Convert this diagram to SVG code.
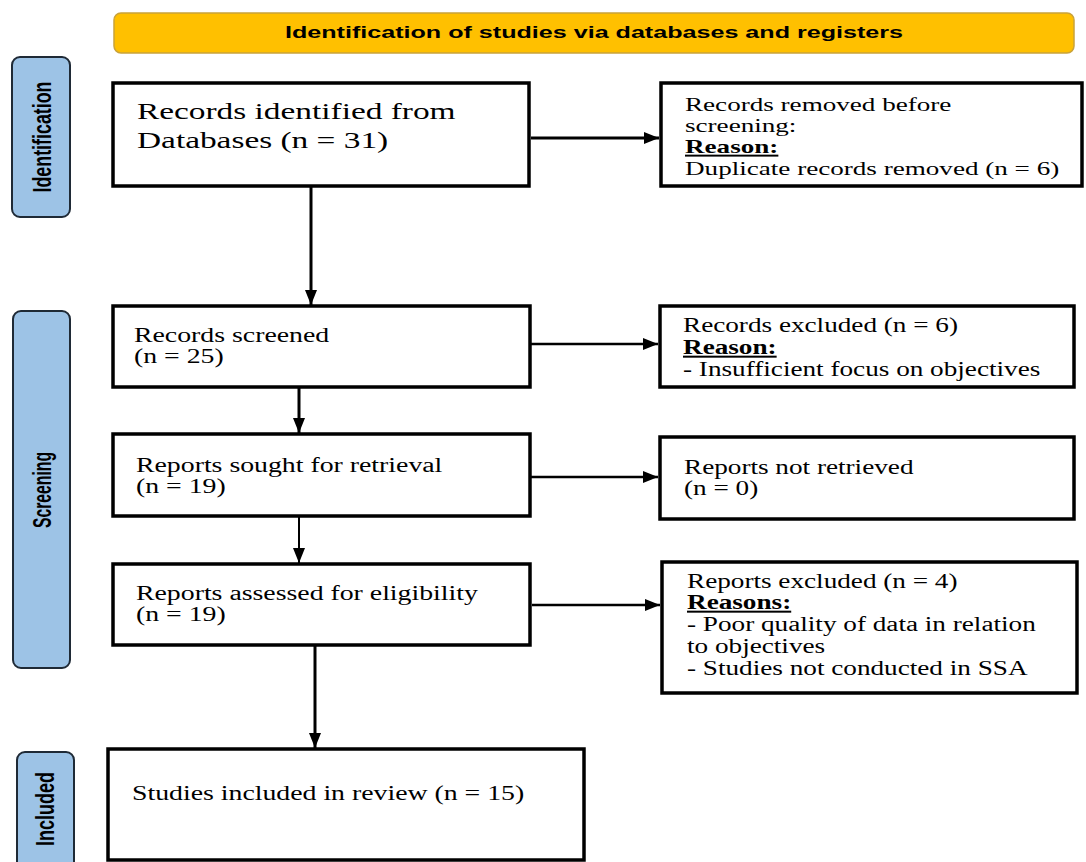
<svg xmlns="http://www.w3.org/2000/svg" width="1086" height="862" viewBox="0 0 1086 862">
<style>
.box{fill:#fff;stroke:#000;stroke-width:3.5}
.side{fill:#9DC3E6;stroke:#1F2A36;stroke-width:2}
.sideT{font-family:"Liberation Sans",Arial,sans-serif;font-weight:bold;font-size:18px;fill:#000}
.t{font-family:"Liberation Serif","Times New Roman",serif;fill:#000}
.b{font-weight:bold;text-decoration:underline}
.c{stroke:#000;fill:none}
</style>
<defs>
<marker id="ah" markerUnits="userSpaceOnUse" markerWidth="16" markerHeight="12" refX="15" refY="6" orient="auto">
<path d="M0,0 L15,6 L0,12 Z" fill="#000"/>
</marker>
</defs>
<rect width="1086" height="862" fill="#fff"/>

<g id="banner">
<rect x="114" y="13" width="960" height="40" rx="7" fill="#FFC000" stroke="#C9A23A" stroke-width="1.5"/>
<text x="594" y="38" text-anchor="middle" font-family="Liberation Sans,Arial,sans-serif" font-weight="bold" font-size="16" textLength="618" lengthAdjust="spacingAndGlyphs">Identification of studies via databases and registers</text>
</g>

<g id="lbl-identification">
<rect class="side" x="12" y="57" width="58" height="160" rx="8"/>
<text class="sideT" transform="translate(42,137) scale(1.39,1) rotate(-90)" text-anchor="middle" dominant-baseline="central" textLength="111" lengthAdjust="spacingAndGlyphs">Identification</text>
</g>
<g id="lbl-screening">
<rect class="side" x="13" y="311" width="57" height="357" rx="8"/>
<text class="sideT" transform="translate(42,490) scale(1.39,1) rotate(-90)" text-anchor="middle" dominant-baseline="central" textLength="76" lengthAdjust="spacingAndGlyphs">Screening</text>
</g>
<g id="lbl-included">
<rect class="side" x="17" y="752" width="57" height="130" rx="8"/>
<text class="sideT" transform="translate(45,809) scale(1.39,1) rotate(-90)" text-anchor="middle" dominant-baseline="central" textLength="74" lengthAdjust="spacingAndGlyphs">Included</text>
</g>

<g id="n-identified">
<rect class="box" x="113" y="83" width="416" height="103"/>
<g transform="translate(137,0) scale(1.39,1)"><text class="t" font-size="24"><tspan x="0" y="119">Records identified from</tspan><tspan x="0" y="148">Databases (n = 31)</tspan></text></g>
</g>
<g id="n-removed">
<rect class="box" x="661" y="83" width="421" height="103"/>
<g transform="translate(685,0) scale(1.39,1)"><text class="t" font-size="19.5"><tspan x="0" y="111">Records removed before</tspan><tspan x="0" y="132">screening:</tspan><tspan x="0" y="153" class="b">Reason:</tspan><tspan x="0" y="175">Duplicate records removed (n = 6)</tspan></text></g>
</g>
<g id="n-screened">
<rect class="box" x="113" y="306" width="417" height="81"/>
<g transform="translate(134,0) scale(1.39,1)"><text class="t" font-size="20"><tspan x="0" y="342">Records screened</tspan><tspan x="0" y="363">(n = 25)</tspan></text></g>
</g>
<g id="n-excluded">
<rect class="box" x="660" y="306" width="414" height="81"/>
<g transform="translate(683,0) scale(1.36,1)"><text class="t" font-size="20"><tspan x="0" y="332">Records excluded (n = 6)</tspan><tspan x="0" y="354" class="b">Reason:</tspan><tspan x="0" y="376">- Insufficient focus on objectives</tspan></text></g>
</g>
<g id="n-sought">
<rect class="box" x="113" y="434" width="417" height="82"/>
<g transform="translate(136,0) scale(1.39,1)"><text class="t" font-size="20"><tspan x="0" y="472">Reports sought for retrieval</tspan><tspan x="0" y="493">(n = 19)</tspan></text></g>
</g>
<g id="n-notretrieved">
<rect class="box" x="660" y="437" width="414" height="82"/>
<g transform="translate(684,0) scale(1.36,1)"><text class="t" font-size="20"><tspan x="0" y="474">Reports not retrieved</tspan><tspan x="0" y="495">(n = 0)</tspan></text></g>
</g>
<g id="n-assessed">
<rect class="box" x="113" y="564" width="417" height="81"/>
<g transform="translate(136,0) scale(1.39,1)"><text class="t" font-size="20"><tspan x="0" y="600">Reports assessed for eligibility</tspan><tspan x="0" y="621">(n = 19)</tspan></text></g>
</g>
<g id="n-reportsexcluded">
<rect class="box" x="662" y="562" width="415" height="131"/>
<g transform="translate(687,0) scale(1.36,1)"><text class="t" font-size="20"><tspan x="0" y="588">Reports excluded (n = 4)</tspan><tspan x="0" y="609" class="b">Reasons:</tspan><tspan x="0" y="631">- Poor quality of data in relation</tspan><tspan x="0" y="653">to objectives</tspan><tspan x="0" y="675">- Studies not conducted in SSA</tspan></text></g>
</g>
<g id="n-included">
<rect class="box" x="108" y="749" width="476" height="111"/>
<g transform="translate(132,0) scale(1.39,1)"><text class="t" font-size="20"><tspan x="0" y="800">Studies included in review (n = 15)</tspan></text></g>
</g>

<g id="connectors">
<line class="c" x1="531" y1="138" x2="659" y2="138" stroke-width="3" marker-end="url(#ah)"/>
<line class="c" x1="311" y1="186" x2="311" y2="305" stroke-width="3" marker-end="url(#ah)"/>
<line class="c" x1="531" y1="344" x2="658" y2="344" stroke-width="2.5" marker-end="url(#ah)"/>
<line class="c" x1="299" y1="388" x2="299" y2="433" stroke-width="3" marker-end="url(#ah)"/>
<line class="c" x1="531" y1="477" x2="658" y2="477" stroke-width="2.5" marker-end="url(#ah)"/>
<line class="c" x1="299" y1="517" x2="299" y2="563" stroke-width="2" marker-end="url(#ah)"/>
<line class="c" x1="532" y1="605" x2="660" y2="605" stroke-width="2.5" marker-end="url(#ah)"/>
<line class="c" x1="315" y1="646" x2="315" y2="748" stroke-width="3" marker-end="url(#ah)"/>
</g>
</svg>
